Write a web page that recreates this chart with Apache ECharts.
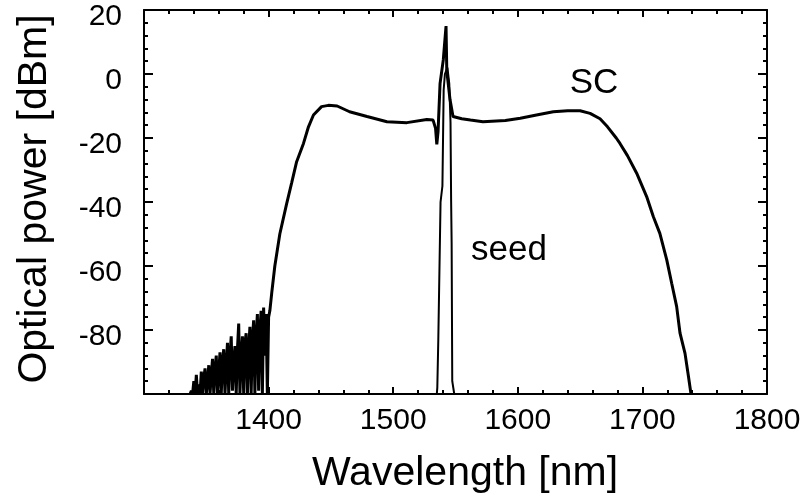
<!DOCTYPE html>
<html><head><meta charset="utf-8">
<script src="https://cdn.jsdelivr.net/npm/echarts@6/dist/echarts.min.js"></script>
<style>html,body{margin:0;padding:0;background:#fff}#c{width:805px;height:496px}</style>
</head><body><div id="c"></div>
<script>
// Supercontinuum (SC) spectrum: wavelength [nm], power [dBm]
var scX = [1337,1338,1339,1340,1341,1342,1343,1344,1345,1346,1347,1348,1349,1350,1351,1352,1353,1354,1355,1356,1357,1358,1359,1360,1361,1362,1363,1364,1365,1366,1367,1368,1369,1370,1371,1372,1373,1374,1375,1376,1377,1378,1379,1380,1381,1382,1383,1384,1385,1386,1387,1388,1389,1390,1391,1392,1393,1394,1395,1396,1397,1398,1399,1400,1401,
  1402.5,1405,1409,1414.5,1418.5,1422.5,1428,1432,1436,1442.5,1448,1455,1465,1479,1495,1511,1527,1532,1534,1535,1536,1537.6,1540.2,1542.4,1543,1545.6,1548,1555,1562,1572,1590,1602,1615,1628.5,1640,1650,1658,1666,1672,1679,1682,1688,1695.4,1703.4,1708.8,1714,1719.5,1723.5,1727.5,1730.2,1734.2,1737,1739];
var scY = [-100,-99,-100,-96,-100,-94,-100,-97,-100,-93,-100,-95,-92,-100,-96,-91,-100,-94,-89,-100,-92,-88,-100,-93,-87,-100,-90,-86,-100,-91,-84,-100,-88,-82,-99,-90,-85,-100,-86,-78,-100,-88,-82,-100,-84,-81,-100,-86,-79,-100,-83,-77,-100,-82,-75,-99,-80,-74,-100,-73,-88,-75,-100,-76,-74,
  -68.5,-60,-50,-40.5,-34,-27.4,-21.7,-16.5,-12.8,-10.2,-9.8,-10,-11.8,-13.3,-14.9,-15.2,-14.2,-14.4,-17,-22,-18,-3,4.4,15,1,-8,-13.3,-14,-14.4,-14.9,-14.5,-13.8,-12.8,-11.8,-11.5,-11.5,-12.3,-14,-16.5,-20,-21.7,-25.5,-31,-38.3,-44.6,-49.8,-58,-65.4,-72.7,-81,-87.3,-94.6,-100];
// Seed spectrum
var seedX = [1535,1535.4,1536.2,1538,1539.5,1540,1540.5,1541.5,1543.5,1545,1546,1546.5,1546.9,1547.4,1549];
var seedY = [-100,-98,-83,-40,-35,-20,-5,0,2,-3,-15,-40,-53,-96,-100];
// Axis ticks
var xTicks = [1400,1500,1600,1700,1800];
var yTicks = [-80,-60,-40,-20,0,20];

function pairs(xs, ys){ return xs.map(function(x,i){ return [x, ys[i]]; }); }

var font = 'Liberation Sans, Arial, sans-serif';
var axisLine = {show:true, onZero:false, lineStyle:{color:'#000', width:2}};
var chart = echarts.init(document.getElementById('c'));
chart.setOption({
  backgroundColor:'#fff',
  animation:false,
  grid:{left:144, top:10, right:38, bottom:102, containLabel:false},
  xAxis:[{
    type:'value', min:1300, max:1800, interval:100, position:'bottom',
    axisLine:axisLine,
    axisTick:{show:true, inside:true, length:7, lineStyle:{color:'#000', width:2}},
    minorTick:{show:true, splitNumber:5, length:4, lineStyle:{color:'#000', width:2}},
    splitLine:{show:false},
    axisLabel:{color:'#000', fontSize:30, fontFamily:font, margin:12,
      formatter:function(v){ return xTicks.indexOf(v) >= 0 ? String(v) : ''; }}
  },{
    type:'value', min:1300, max:1800, interval:100, position:'top',
    axisLine:axisLine,
    axisTick:{show:true, inside:true, length:7, lineStyle:{color:'#000', width:2}},
    minorTick:{show:true, splitNumber:5, length:4, lineStyle:{color:'#000', width:2}},
    splitLine:{show:false}, axisLabel:{show:false}
  }],
  yAxis:[{
    type:'value', min:-100, max:20, interval:20, position:'left',
    axisLine:axisLine,
    axisTick:{show:true, inside:true, length:9, lineStyle:{color:'#000', width:2}},
    minorTick:{show:true, splitNumber:5, length:4, lineStyle:{color:'#000', width:2}},
    splitLine:{show:false},
    axisLabel:{color:'#000', fontSize:30, fontFamily:font, margin:22,
      formatter:function(v){ return yTicks.indexOf(v) >= 0 ? '{a|' + v + '}' : ''; },
      rich:{a:{fontSize:30, fontFamily:font, color:'#000', padding:[14,0,0,0]}}}
  },{
    type:'value', min:-100, max:20, interval:20, position:'right',
    axisLine:axisLine,
    axisTick:{show:true, inside:true, length:9, lineStyle:{color:'#000', width:2}},
    minorTick:{show:true, splitNumber:5, length:4, lineStyle:{color:'#000', width:2}},
    splitLine:{show:false}, axisLabel:{show:false}
  }],
  series:[{
    name:'SC', type:'line', xAxisIndex:0, yAxisIndex:0, data:pairs(scX, scY),
    showSymbol:false, symbol:'none', lineStyle:{color:'#000', width:3}, clip:true
  },{
    name:'seed', type:'line', xAxisIndex:0, yAxisIndex:0, data:pairs(seedX, seedY),
    showSymbol:false, symbol:'none', lineStyle:{color:'#000', width:2}, clip:true
  }],
  graphic:[
    {type:'text', x:465, y:474, style:{text:'Wavelength [nm]', font:'41px ' + font, fill:'#000', textAlign:'center', textVerticalAlign:'middle'}},
    {type:'text', x:35, y:199, rotation:Math.PI/2, style:{text:'Optical power [dBm]', font:'41px ' + font, fill:'#000', textAlign:'center', textVerticalAlign:'middle'}},
    {type:'text', x:594, y:83, style:{text:'SC', font:'35px ' + font, fill:'#000', textAlign:'center', textVerticalAlign:'middle'}},
    {type:'text', x:509, y:250, style:{text:'seed', font:'35px ' + font, fill:'#000', textAlign:'center', textVerticalAlign:'middle'}}
  ]
});
</script></body></html>
